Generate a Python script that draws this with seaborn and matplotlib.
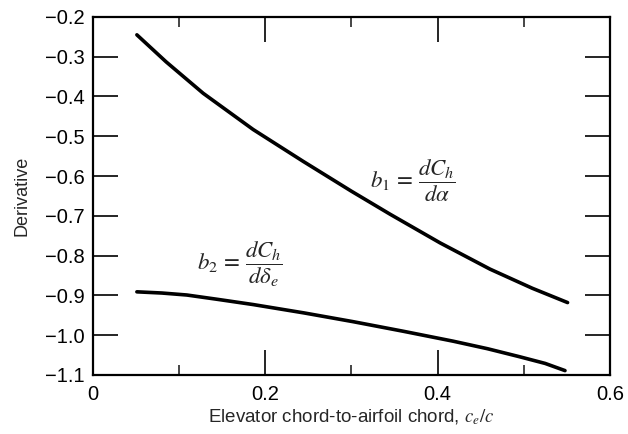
import matplotlib
matplotlib.use("Agg")
import matplotlib.pyplot as plt
import seaborn as sns
import pandas as pd
from matplotlib.ticker import MultipleLocator

# Data
b1_x = [0.051, 0.085, 0.128, 0.186, 0.244, 0.300, 0.345, 0.403, 0.461, 0.510, 0.551]
b1_y = [-0.245, -0.313, -0.392, -0.483, -0.563, -0.638, -0.696, -0.768, -0.834, -0.882, -0.918]
b2_x = [0.051, 0.080, 0.109, 0.145, 0.186, 0.245, 0.302, 0.360, 0.418, 0.458, 0.495, 0.525, 0.548]
b2_y = [-0.891, -0.894, -0.899, -0.910, -0.923, -0.944, -0.966, -0.990, -1.015, -1.034,
        -1.054, -1.071, -1.089]

x_ticks = [0, 0.2, 0.4, 0.6]
y_ticks = [-0.2, -0.3, -0.4, -0.5, -0.6, -0.7, -0.8, -0.9, -1.0, -1.1]

df = pd.concat([
    pd.DataFrame({"x": b1_x, "y": b1_y, "s": "b1"}),
    pd.DataFrame({"x": b2_x, "y": b2_y, "s": "b2"}),
])

sns.set_style("ticks")
plt.rcParams["font.family"] = ["Liberation Sans", "DejaVu Sans"]
plt.rcParams["mathtext.fontset"] = "stix"

fig = plt.figure(figsize=(6.28, 4.34), dpi=100)
ax = fig.add_axes([0.148, 0.136, 0.823, 0.825])

for name in ["b1", "b2"]:
    sub = df[df["s"] == name]
    sns.lineplot(data=sub, x="x", y="y", ax=ax, color="black", lw=2.6,
                 sort=False, estimator=None, legend=False)
for line in ax.lines:
    line.set_solid_joinstyle("round")
    line.set_solid_capstyle("round")

ax.set_xlim(0, 0.6)
ax.set_ylim(-1.1, -0.2)
ax.set_xticks(x_ticks)
ax.set_xticklabels(["0", "0.2", "0.4", "0.6"])
ax.set_yticks(y_ticks)
ax.set_yticklabels(["\u22120.2", "\u22120.3", "\u22120.4", "\u22120.5", "\u22120.6",
                    "\u22120.7", "\u22120.8", "\u22120.9", "\u22121.0", "\u22121.1"])
ax.xaxis.set_minor_locator(MultipleLocator(0.1))

for s in ax.spines.values():
    s.set_linewidth(1.6)
    s.set_color("black")

ax.tick_params(axis="both", which="major", direction="in", length=18, width=1.2,
               top=True, right=True, labelsize=14.5, colors="black")
ax.tick_params(axis="x", which="minor", direction="in", length=7, width=1.2,
               top=True, bottom=True)
ax.tick_params(axis="y", which="major", pad=6)
ax.tick_params(axis="x", which="major", pad=7)

ax.set_xlabel("Elevator chord-to-airfoil chord, $c_e/c$", fontsize=13.5, labelpad=3)
ax.set_ylabel("Derivative", fontsize=13, labelpad=10)

ax.text(0.322, -0.612, r"$b_1\,=\,\dfrac{dC_h}{d\alpha}$", fontsize=16.5,
        ha="left", va="center")
ax.text(0.121, -0.823, r"$b_2\,=\,\dfrac{dC_h}{d\delta_e}$", fontsize=16.5,
        ha="left", va="center")

fig.savefig("out.png", dpi=100)
